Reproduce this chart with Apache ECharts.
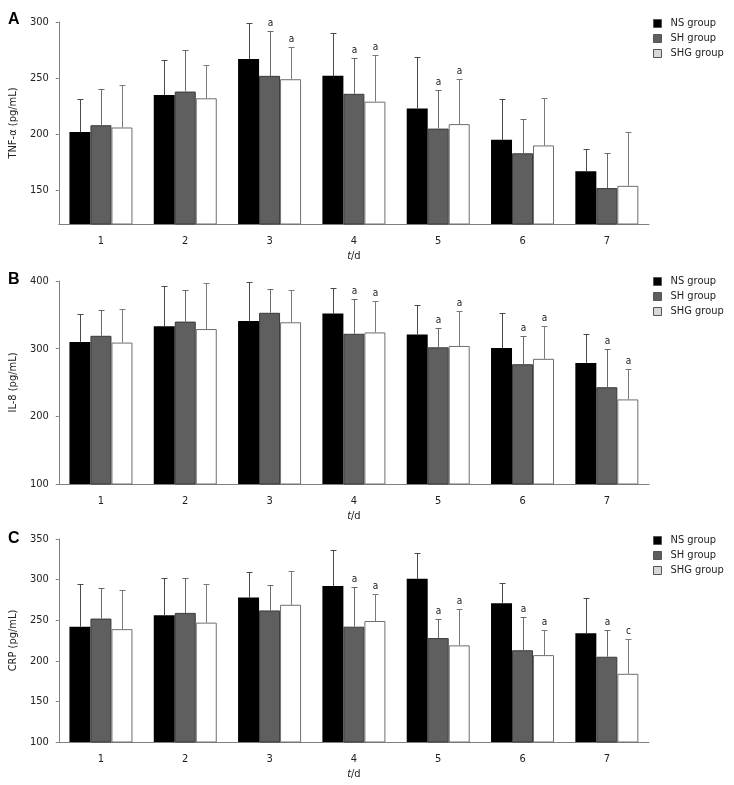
<!DOCTYPE html>
<html>
<head>
<meta charset="utf-8">
<script src="https://cdn.jsdelivr.net/npm/echarts@6/dist/echarts.min.js"></script>
<style>
html,body{margin:0;padding:0;background:#fff;}
#chart{width:734px;height:785px;}
</style>
</head>
<body>
<div id="chart"></div>
<script>
// ---------- data ----------
const days = ['1', '2', '3', '4', '5', '6', '7'];
const groups = ['NS group', 'SH group', 'SHG group'];

// Panel A: TNF-alpha (pg/mL)
const tnfNS = [202, 235, 267, 252, 223, 195, 167];
const tnfNSsd = [29, 31, 32, 38, 46, 36, 20];
const tnfSH = [208, 238, 252, 236, 205, 183, 152];
const tnfSHsd = [32, 37, 40, 32, 34, 31, 31];
const tnfSHG = [206, 232, 249, 229, 209, 190, 154];
const tnfSHGsd = [38, 30, 29, 42, 40, 42, 48];
const tnfMarkNS = ['', '', '', '', '', '', ''];
const tnfMarkSH = ['', '', 'a', 'a', 'a', '', ''];
const tnfMarkSHG = ['', '', 'a', 'a', 'a', '', ''];
const tnfTicks = [150, 200, 250, 300];

// Panel B: IL-8 (pg/mL)
const il8NS = [310, 333, 341, 352, 321, 301, 279];
const il8NSsd = [41, 60, 58, 37, 43, 51, 42];
const il8SH = [319, 340, 353, 322, 302, 277, 243];
const il8SHsd = [38, 46, 35, 52, 29, 42, 56];
const il8SHG = [309, 329, 339, 324, 304, 285, 225];
const il8SHGsd = [50, 68, 47, 47, 52, 48, 45];
const il8MarkNS = ['', '', '', '', '', '', ''];
const il8MarkSH = ['', '', '', 'a', 'a', 'a', 'a'];
const il8MarkSHG = ['', '', '', 'a', 'a', 'a', 'a'];
const il8Ticks = [100, 200, 300, 400];

// Panel C: CRP (pg/mL)
const crpNS = [242, 256, 278, 292, 301, 271, 234];
const crpNSsd = [53, 46, 31, 44, 32, 25, 43];
const crpSH = [252, 259, 262, 242, 228, 213, 205];
const crpSHsd = [38, 43, 31, 49, 23, 41, 33];
const crpSHG = [239, 247, 269, 249, 219, 207, 184];
const crpSHGsd = [48, 48, 42, 33, 45, 31, 43];
const crpMarkNS = ['', '', '', '', '', '', ''];
const crpMarkSH = ['', '', '', 'a', 'a', 'a', 'a'];
const crpMarkSHG = ['', '', '', 'a', 'a', 'a', 'c'];
const crpTicks = [100, 150, 200, 250, 300, 350];

// ---------- styling ----------
const FONT = '"DejaVu Sans Condensed", "DejaVu Sans", sans-serif';
const BAR_W = 21;
const AXIS_COLOR = '#808080';
const TEXT_COLOR = '#222';
const barStyles = [
  { color: '#000000', borderColor: '#000000', borderWidth: 0 },
  { color: '#5f5f5f', borderColor: '#3a3a3a', borderWidth: 1 },
  { color: '#ffffff', borderColor: '#6e6e6e', borderWidth: 1 }
];
const errColors = ['#4a4a4a', '#6a6a6a', '#7a7a7a'];
const legendColors = ['#000000', '#5f5f5f', '#d8d8d8'];

const panels = [
  { name: 'TNF-α (pg/mL)', min: 120, max: 300, ticks: tnfTicks, top: 22, height: 202,
    means: [tnfNS, tnfSH, tnfSHG], sds: [tnfNSsd, tnfSHsd, tnfSHGsd], marks: [tnfMarkNS, tnfMarkSH, tnfMarkSHG],
    letter: 'A', legendTop: 18, letterTop: 12 },
  { name: 'IL-8 (pg/mL)', min: 100, max: 400, ticks: il8Ticks, top: 281, height: 203,
    means: [il8NS, il8SH, il8SHG], sds: [il8NSsd, il8SHsd, il8SHGsd], marks: [il8MarkNS, il8MarkSH, il8MarkSHG],
    letter: 'B', legendTop: 276, letterTop: 272 },
  { name: 'CRP (pg/mL)', min: 100, max: 350, ticks: crpTicks, top: 539, height: 203,
    means: [crpNS, crpSH, crpSHG], sds: [crpNSsd, crpSHsd, crpSHGsd], marks: [crpMarkNS, crpMarkSH, crpMarkSHG],
    letter: 'C', legendTop: 535, letterTop: 531 }
];

function errRenderer(offsetIndex, marks) {
  return function (params, api) {
    const cat = api.value(0), mean = api.value(1), sd = api.value(2);
    const base = api.coord([cat, mean]);
    const top = api.coord([cat, mean + sd]);
    const x = Math.round(base[0] + (offsetIndex - 1) * BAR_W) + 0.5;
    const yt = Math.round(top[1]) + 0.5;
    const col = errColors[offsetIndex];
    const children = [
      { type: 'line', shape: { x1: x, y1: base[1], x2: x, y2: yt }, style: { stroke: col, lineWidth: 1 } },
      { type: 'line', shape: { x1: x - 3, y1: yt, x2: x + 3, y2: yt }, style: { stroke: col, lineWidth: 1 } }
    ];
    const m = marks[params.dataIndex];
    if (m) {
      children.push({ type: 'text', style: { text: m, x: x, y: yt - 3, align: 'center', verticalAlign: 'bottom',
        fill: TEXT_COLOR, font: '10px ' + FONT } });
    }
    return { type: 'group', children: children };
  };
}

const grid = [], xAxis = [], yAxis = [], series = [], legend = [], title = [];
panels.forEach(function (p, pi) {
  grid.push({ left: 54, right: 85, top: p.top, height: p.height, containLabel: false });
  xAxis.push({
    type: 'category', gridIndex: pi, data: days,
    name: '{i|t}/d', nameLocation: 'middle', nameGap: 27,
    nameTextStyle: { color: TEXT_COLOR, fontFamily: FONT, fontSize: 11,
      rich: { i: { fontStyle: 'italic', fontFamily: FONT, fontSize: 11, color: TEXT_COLOR } } },
    axisLine: { lineStyle: { color: AXIS_COLOR, width: 1 } },
    axisTick: { show: true, inside: true, alignWithLabel: true, length: 3, lineStyle: { color: '#555' } },
    axisLabel: { color: TEXT_COLOR, fontFamily: FONT, fontSize: 11, margin: 12 },
    splitLine: { show: false }
  });
  yAxis.push({
    type: 'value', gridIndex: pi, min: p.min, max: p.max,
    name: p.name, nameLocation: 'middle', nameGap: 31, nameRotate: 90,
    nameTextStyle: { color: TEXT_COLOR, fontFamily: FONT, fontSize: 11 },
    axisLine: { show: true, lineStyle: { color: AXIS_COLOR, width: 1 } },
    axisTick: { show: true, length: 3, customValues: p.ticks, lineStyle: { color: AXIS_COLOR } },
    axisLabel: { color: TEXT_COLOR, fontFamily: FONT, fontSize: 11, margin: 10, customValues: p.ticks },
    splitLine: { show: false }
  });
  groups.forEach(function (g, gi) {
    series.push({
      type: 'bar', name: g, xAxisIndex: pi, yAxisIndex: pi,
      data: p.means[gi], barWidth: BAR_W, barGap: '0%',
      itemStyle: barStyles[gi], emphasis: { disabled: true }, z: 2
    });
  });
  groups.forEach(function (g, gi) {
    series.push({
      type: 'custom', name: g + ' err', xAxisIndex: pi, yAxisIndex: pi, z: 5,
      data: p.means[gi].map(function (m, i) { return [i, m, p.sds[gi][i]]; }),
      renderItem: errRenderer(gi, p.marks[gi]), silent: true
    });
  });
  legend.push({
    orient: 'vertical', left: 653, top: p.legendTop, padding: 0, itemWidth: 8, itemHeight: 8, itemGap: 4,
    icon: 'rect', selectedMode: false,
    textStyle: { color: TEXT_COLOR, fontFamily: FONT, fontSize: 11, padding: [0, 0, 0, 4] },
    data: groups.map(function (g, gi) {
      return { name: g, itemStyle: { color: legendColors[gi], borderColor: '#555', borderWidth: 1 } };
    })
  });
  title.push({ text: p.letter, left: 8, top: p.letterTop, padding: 0,
    textStyle: { fontSize: 16, fontWeight: 'bold', color: '#000', fontFamily: '"Liberation Sans", Arial, sans-serif' } });
});

const chart = echarts.init(document.getElementById('chart'), null, { renderer: 'canvas' });
chart.setOption({
  animation: false,
  backgroundColor: '#ffffff',
  title: title,
  grid: grid,
  xAxis: xAxis,
  yAxis: yAxis,
  legend: legend,
  series: series
});
</script>
</body>
</html>
